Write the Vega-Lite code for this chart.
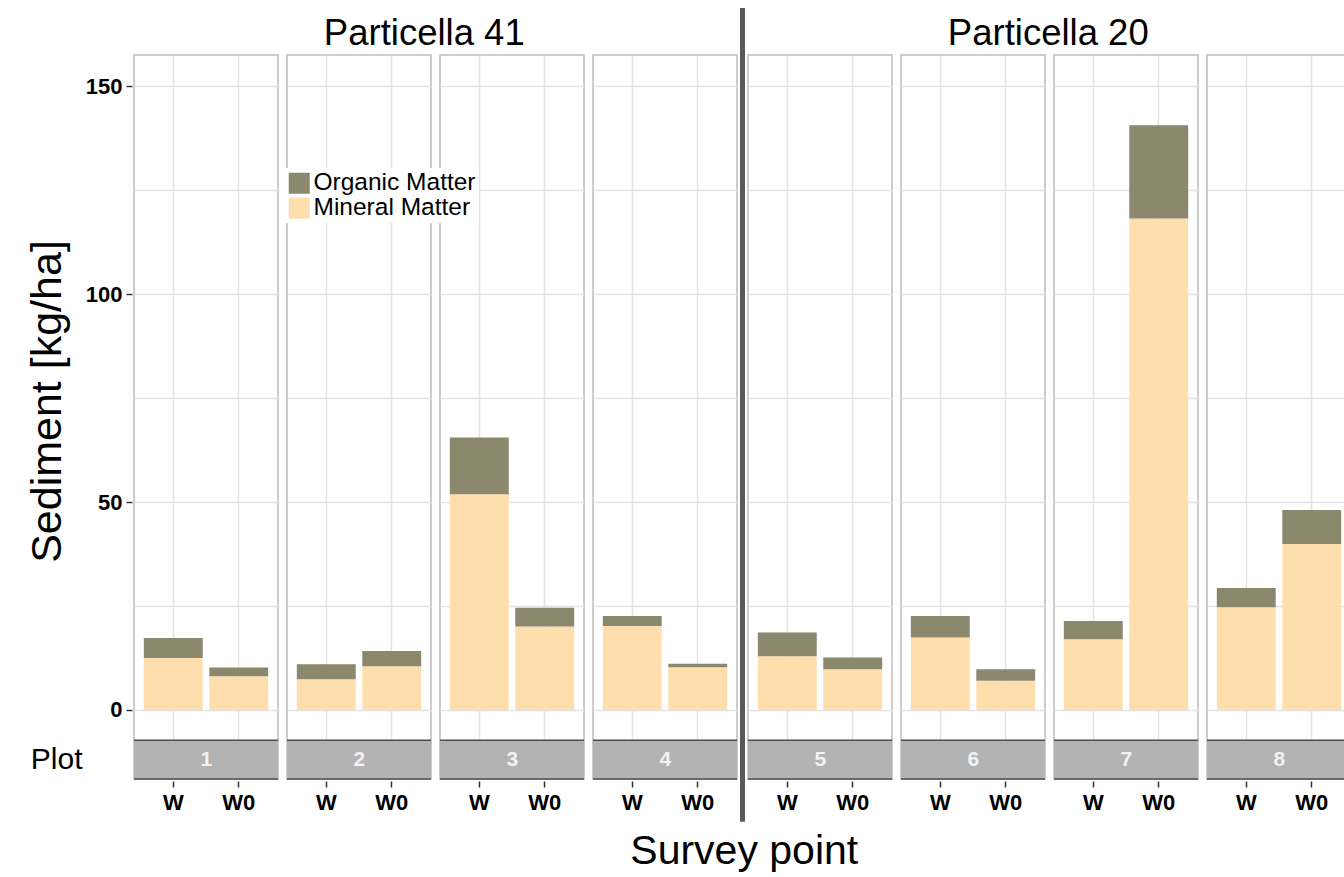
{
  "$schema": "https://vega.github.io/schema/vega-lite/v6.json",
  "padding": {"left": 26, "top": 8, "right": 0, "bottom": 0},
  "background": "white",
  "title": {"text": "Survey point", "orient": "bottom", "anchor": "middle", "frame": "bounds", "fontSize": 41, "fontWeight": "normal", "color": "black", "offset": 10, "dx": 55},
  "datasets": {
    "sed": [
      {"Particella": "Particella 41", "Plot": 1, "Point": "W", "Component": "Mineral Matter", "value": 12.5},
      {"Particella": "Particella 41", "Plot": 1, "Point": "W", "Component": "Organic Matter", "value": 4.8},
      {"Particella": "Particella 41", "Plot": 1, "Point": "W0", "Component": "Mineral Matter", "value": 8.1},
      {"Particella": "Particella 41", "Plot": 1, "Point": "W0", "Component": "Organic Matter", "value": 2.1},
      {"Particella": "Particella 41", "Plot": 2, "Point": "W", "Component": "Mineral Matter", "value": 7.4},
      {"Particella": "Particella 41", "Plot": 2, "Point": "W", "Component": "Organic Matter", "value": 3.6},
      {"Particella": "Particella 41", "Plot": 2, "Point": "W0", "Component": "Mineral Matter", "value": 10.5},
      {"Particella": "Particella 41", "Plot": 2, "Point": "W0", "Component": "Organic Matter", "value": 3.7},
      {"Particella": "Particella 41", "Plot": 3, "Point": "W", "Component": "Mineral Matter", "value": 51.9},
      {"Particella": "Particella 41", "Plot": 3, "Point": "W", "Component": "Organic Matter", "value": 13.6},
      {"Particella": "Particella 41", "Plot": 3, "Point": "W0", "Component": "Mineral Matter", "value": 20.1},
      {"Particella": "Particella 41", "Plot": 3, "Point": "W0", "Component": "Organic Matter", "value": 4.5},
      {"Particella": "Particella 41", "Plot": 4, "Point": "W", "Component": "Mineral Matter", "value": 20.2},
      {"Particella": "Particella 41", "Plot": 4, "Point": "W", "Component": "Organic Matter", "value": 2.4},
      {"Particella": "Particella 41", "Plot": 4, "Point": "W0", "Component": "Mineral Matter", "value": 10.3},
      {"Particella": "Particella 41", "Plot": 4, "Point": "W0", "Component": "Organic Matter", "value": 0.8},
      {"Particella": "Particella 20", "Plot": 5, "Point": "W", "Component": "Mineral Matter", "value": 12.9},
      {"Particella": "Particella 20", "Plot": 5, "Point": "W", "Component": "Organic Matter", "value": 5.7},
      {"Particella": "Particella 20", "Plot": 5, "Point": "W0", "Component": "Mineral Matter", "value": 9.8},
      {"Particella": "Particella 20", "Plot": 5, "Point": "W0", "Component": "Organic Matter", "value": 2.8},
      {"Particella": "Particella 20", "Plot": 6, "Point": "W", "Component": "Mineral Matter", "value": 17.4},
      {"Particella": "Particella 20", "Plot": 6, "Point": "W", "Component": "Organic Matter", "value": 5.2},
      {"Particella": "Particella 20", "Plot": 6, "Point": "W0", "Component": "Mineral Matter", "value": 7.0},
      {"Particella": "Particella 20", "Plot": 6, "Point": "W0", "Component": "Organic Matter", "value": 2.8},
      {"Particella": "Particella 20", "Plot": 7, "Point": "W", "Component": "Mineral Matter", "value": 17.0},
      {"Particella": "Particella 20", "Plot": 7, "Point": "W", "Component": "Organic Matter", "value": 4.4},
      {"Particella": "Particella 20", "Plot": 7, "Point": "W0", "Component": "Mineral Matter", "value": 118.2},
      {"Particella": "Particella 20", "Plot": 7, "Point": "W0", "Component": "Organic Matter", "value": 22.4},
      {"Particella": "Particella 20", "Plot": 8, "Point": "W", "Component": "Mineral Matter", "value": 24.7},
      {"Particella": "Particella 20", "Plot": 8, "Point": "W", "Component": "Organic Matter", "value": 4.6},
      {"Particella": "Particella 20", "Plot": 8, "Point": "W0", "Component": "Mineral Matter", "value": 39.9},
      {"Particella": "Particella 20", "Plot": 8, "Point": "W0", "Component": "Organic Matter", "value": 8.2}
    ]
  },
  "spacing": 1,
  "resolve": {"scale": {"color": "shared"}, "legend": {"color": "shared"}},
  "hconcat": [
    {
      "data": {"name": "sed"},
      "transform": [{"filter": "datum.Particella == 'Particella 41'"}],
      "title": {"text": "Particella 41", "fontSize": 36.5, "fontWeight": "normal", "color": "black", "anchor": "middle", "offset": 2, "dx": 42},
      "facet": {"column": {"field": "Plot", "type": "ordinal", "header": {"title": null, "labels": false}}},
      "spacing": {"column": 5},
      "spec": {
        "width": 144,
        "height": 724,
        "layer": [
          {
            "mark": {"type": "bar"},
            "encoding": {
              "x": {"field": "Point", "type": "nominal", "title": null,
                "scale": {"paddingInner": 0.1, "paddingOuter": 0.15},
                "axis": {"labelAngle": 0, "bandPosition": 0.5, "grid": true, "domain": false, "tickSize": 6, "tickWidth": 1.5, "labelFontSize": 22, "labelFontWeight": "bold", "labelPadding": 5}},
              "y": {"field": "value", "type": "quantitative", "stack": "zero", "title": "Sediment [kg/ha]",
                "scale": {"domain": [-16.6, 157.5], "nice": false, "zero": false},
                "axis": {
                  "values": [-12, 0, 25, 50, 75, 100, 125, 150],
                  "labelExpr": "datum.value < 0 ? 'Plot' : (datum.value % 50 == 0 ? datum.label : '')",
                  "grid": true,
                  "gridOpacity": {"condition": {"test": "datum.value < 0", "value": 0}, "value": 1},
                  "tickOpacity": {"condition": {"test": "datum.value >= 0 && datum.value % 50 == 0", "value": 1}, "value": 0},
                  "tickSize": 6, "tickWidth": 1.5,
                  "labelPadding": {"condition": {"test": "datum.value < 0", "value": 44}, "value": 4},
                  "labelFontSize": {"condition": {"test": "datum.value < 0", "value": 30}, "value": 22},
                  "labelFontWeight": {"condition": {"test": "datum.value < 0", "value": "normal"}, "value": "bold"},
                  "titleFontSize": 43, "titleFontWeight": "normal",
                  "titleX": -72, "titleY": 346, "titleBaseline": "alphabetic"
                }},
              "color": {"field": "Component", "type": "nominal",
                "scale": {"domain": ["Organic Matter", "Mineral Matter"], "range": ["#8B886E", "#FFDEAD"]},
                "legend": {"title": null, "orient": "none", "legendX": 150, "legendY": 113}},
              "order": {"field": "Component", "sort": "ascending"}
            }
          },
          {
            "transform": [{"filter": "datum.Point == 'W' && datum.Component == 'Mineral Matter'"}],
            "mark": {"type": "rect", "color": "#b3b3b3"},
            "encoding": {
              "x": {"value": 0}, "x2": {"value": "width"},
              "y": {"datum": -16.6, "type": "quantitative", "title": "Sediment [kg/ha]"}, "y2": {"datum": -7.3}
            }
          },
          {
            "transform": [{"filter": "datum.Point == 'W' && datum.Component == 'Mineral Matter'"}],
            "mark": {"type": "rule", "color": "#4d4d4d", "strokeWidth": 1.5},
            "encoding": {
              "x": {"value": 0}, "x2": {"value": "width"},
              "y": {"datum": -7.3, "type": "quantitative", "title": "Sediment [kg/ha]"}
            }
          },
          {
            "transform": [{"filter": "datum.Point == 'W' && datum.Component == 'Mineral Matter'"}],
            "mark": {"type": "rule", "color": "#4d4d4d", "strokeWidth": 1.5},
            "encoding": {
              "x": {"value": 0}, "x2": {"value": "width"},
              "y": {"datum": -16.6, "type": "quantitative", "title": "Sediment [kg/ha]"}
            }
          },
          {
            "transform": [{"filter": "datum.Point == 'W' && datum.Component == 'Mineral Matter'"}],
            "mark": {"type": "text", "color": "#f2f2f2", "fontSize": 21, "fontWeight": "bold", "align": "center", "baseline": "middle", "dx": -3},
            "encoding": {
              "x": {"datum": "W0", "bandPosition": 0},
              "y": {"datum": -12, "type": "quantitative", "title": "Sediment [kg/ha]"},
              "text": {"field": "Plot", "type": "ordinal"}
            }
          }
        ]
      }
    },
    {
      "data": {"name": "sed"},
      "transform": [{"filter": "datum.Plot == 4 && datum.Point == 'W' && datum.Component == 'Mineral Matter'"}],
      "width": 5,
      "height": 724,
      "view": {"stroke": null},
      "mark": {"type": "rect", "color": "#595959"},
      "encoding": {
        "x": {"value": 0}, "x2": {"value": "width"},
        "y": {"datum": 168.8, "type": "quantitative", "scale": {"domain": [-16.6, 157.5], "nice": false, "zero": false}, "axis": null},
        "y2": {"datum": -26.9}
      }
    },
    {
      "data": {"name": "sed"},
      "transform": [{"filter": "datum.Particella == 'Particella 20'"}],
      "title": {"text": "Particella 20", "fontSize": 36.5, "fontWeight": "normal", "color": "black", "anchor": "middle", "offset": 2, "dx": -1},
      "facet": {"column": {"field": "Plot", "type": "ordinal", "header": {"title": null, "labels": false}}},
      "spacing": {"column": 5},
      "spec": {
        "width": 144,
        "height": 724,
        "layer": [
          {
            "mark": {"type": "bar"},
            "encoding": {
              "x": {"field": "Point", "type": "nominal", "title": null,
                "scale": {"paddingInner": 0.1, "paddingOuter": 0.15},
                "axis": {"labelAngle": 0, "bandPosition": 0.5, "grid": true, "domain": false, "tickSize": 6, "tickWidth": 1.5, "labelFontSize": 22, "labelFontWeight": "bold", "labelPadding": 5}},
              "y": {"field": "value", "type": "quantitative", "stack": "zero", "title": null,
                "scale": {"domain": [-16.6, 157.5], "nice": false, "zero": false},
                "axis": {
                  "values": [0, 25, 50, 75, 100, 125, 150],
                  "labels": false, "ticks": false, "grid": true, "domain": false
                }},
              "color": {"field": "Component", "type": "nominal",
                "scale": {"domain": ["Organic Matter", "Mineral Matter"], "range": ["#8B886E", "#FFDEAD"]},
                "legend": {"title": null, "orient": "none", "legendX": 150, "legendY": 113}},
              "order": {"field": "Component", "sort": "ascending"}
            }
          },
          {
            "transform": [{"filter": "datum.Point == 'W' && datum.Component == 'Mineral Matter'"}],
            "mark": {"type": "rect", "color": "#b3b3b3"},
            "encoding": {
              "x": {"value": 0}, "x2": {"value": "width"},
              "y": {"datum": -16.6, "type": "quantitative", "title": null}, "y2": {"datum": -7.3}
            }
          },
          {
            "transform": [{"filter": "datum.Point == 'W' && datum.Component == 'Mineral Matter'"}],
            "mark": {"type": "rule", "color": "#4d4d4d", "strokeWidth": 1.5},
            "encoding": {
              "x": {"value": 0}, "x2": {"value": "width"},
              "y": {"datum": -7.3, "type": "quantitative", "title": null}
            }
          },
          {
            "transform": [{"filter": "datum.Point == 'W' && datum.Component == 'Mineral Matter'"}],
            "mark": {"type": "rule", "color": "#4d4d4d", "strokeWidth": 1.5},
            "encoding": {
              "x": {"value": 0}, "x2": {"value": "width"},
              "y": {"datum": -16.6, "type": "quantitative", "title": null}
            }
          },
          {
            "transform": [{"filter": "datum.Point == 'W' && datum.Component == 'Mineral Matter'"}],
            "mark": {"type": "text", "color": "#f2f2f2", "fontSize": 21, "fontWeight": "bold", "align": "center", "baseline": "middle", "dx": -3},
            "encoding": {
              "x": {"datum": "W0", "bandPosition": 0},
              "y": {"datum": -12, "type": "quantitative", "title": null},
              "text": {"field": "Plot", "type": "ordinal"}
            }
          }
        ]
      }
    }
  ],
  "config": {
    "font": "Liberation Sans",
    "view": {"stroke": "#bdbdbd", "strokeWidth": 1.5},
    "axis": {"gridColor": "#e3e3e3", "gridWidth": 1.5, "domain": false, "tickColor": "#333333", "labelColor": "black", "titleColor": "black"},
    "legend": {"symbolType": "square", "symbolSize": 441, "symbolStrokeWidth": 0, "symbolOpacity": 1, "labelFontSize": 24.5, "labelColor": "black", "labelOffset": 2, "rowPadding": 0, "fillColor": "white", "padding": 3, "labelLimit": 300}
  }
}
